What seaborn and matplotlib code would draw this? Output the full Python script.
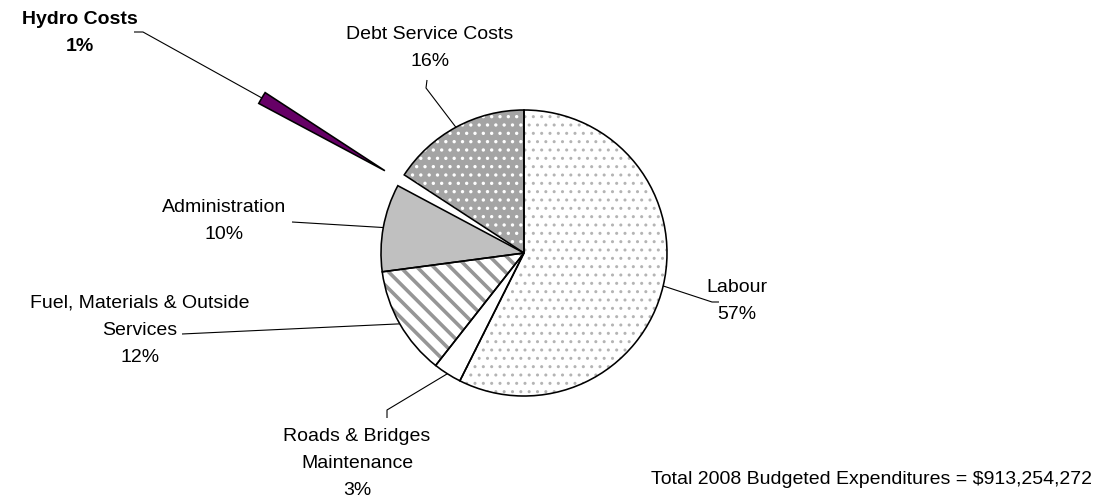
import numpy as np
import matplotlib
matplotlib.use("Agg")
import matplotlib.pyplot as plt
import seaborn as sns

# ---- data ----
categories = ["Labour", "Roads & Bridges\nMaintenance", "Fuel, Materials & Outside\nServices",
              "Administration", "Hydro Costs", "Debt Service Costs"]
shares = [57.4, 3.2, 12.3, 9.9, 1.4, 15.8]
pct_labels = ["57%", "3%", "12%", "10%", "1%", "16%"]
total_label = "Total 2008 Budgeted Expenditures = $913,254,272"

# ---- styling ----
face_colors = ["#ffffff", "#ffffff", "#ffffff", "#c0c0c0", "#660066", "#a4a4a4"]
hatches = ["..", None, "\\\\", None, None, ".."]
hatch_colors = ["#b4b4b4", "#ffffff", "#969696", "#c0c0c0", "#660066", "#ffffff"]
hatch_lw = [1.0, 1.0, 2.6, 1.0, 1.0, 1.2]
explode_frac = [0, 0, 0, 0, 1.13, 0]

sns.set_theme(style="white")
plt.rcParams['font.family'] = ['Liberation Sans', 'DejaVu Sans']

W, H = 1106, 501
fig = plt.figure(figsize=(W / 100, H / 100), dpi=100)
ax = fig.add_axes([0, 0, 1, 1])

def P(x, y):
    return (x, H - y)

cx, cy = P(524, 253)
R = 143
explode = [e * R for e in explode_frac]

wedges, _ = ax.pie(shares, center=(cx, cy), radius=R, startangle=90, counterclock=False,
                   explode=explode, colors=face_colors, hatch=hatches,
                   wedgeprops=dict(linewidth=0))
for w, hc, hl in zip(wedges, hatch_colors, hatch_lw):
    w.set_edgecolor(hc)
    w.set_linewidth(0)
    if hasattr(w, "set_hatch_linewidth"):
        w.set_hatch_linewidth(hl)

outline, _ = ax.pie(shares, center=(cx, cy), radius=R, startangle=90, counterclock=False,
                    explode=explode, colors=["none"] * len(shares),
                    wedgeprops=dict(linewidth=1.15, edgecolor="black"))

ax.set_xlim(0, W)
ax.set_ylim(0, H)
ax.set_aspect("equal", adjustable="box")
ax.axis("off")

# label layout: (text center x, top of first line y, elbow points)
fs = 14
layout = {
    "Labour": dict(xy=(737, 279), elbow=[(712, 302), (719, 302)]),
    "Roads & Bridges\nMaintenance": dict(xy=(357, 428), elbow=[(387, 410), (387, 418)]),
    "Fuel, Materials & Outside\nServices": dict(xy=(140, 295), elbow=[(182, 334)]),
    "Administration": dict(xy=(224, 199), elbow=[(292, 222)]),
    "Hydro Costs": dict(xy=(80, 11), elbow=[(143, 32), (134, 32)]),
    "Debt Service Costs": dict(xy=(430, 26), elbow=[(426, 88), (427, 80)]),
}

for w, cat, pct in zip(wedges, categories, pct_labels):
    lay = layout[cat]
    mid = np.deg2rad((w.theta1 + w.theta2) / 2)
    wx, wy = w.center
    ax_pt = (wx + R * np.cos(mid), wy + R * np.sin(mid))
    xs = [ax_pt[0]] + [P(*e)[0] for e in lay["elbow"]]
    ys = [ax_pt[1]] + [P(*e)[1] for e in lay["elbow"]]
    ax.plot(xs, ys, color="black", lw=0.8, solid_capstyle="butt")
    bold = cat == "Hydro Costs"
    ax.text(*P(*lay["xy"]), f"{cat}\n{pct}", ha="center", va="top", fontsize=fs,
            fontweight="bold" if bold else "normal", color="black", linespacing=1.78,
            multialignment="center")

ax.text(*P(1092, 480), total_label, ha="right", va="center", fontsize=fs, color="black")

fig.savefig("out.png", dpi=100)
